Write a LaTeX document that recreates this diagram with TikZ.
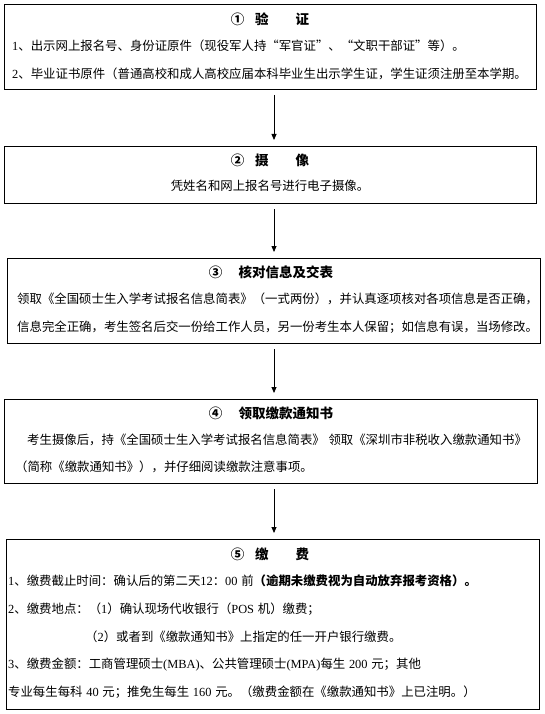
\documentclass[tikz,border=0pt]{standalone}
\usepackage{fontspec}
\setmainfont{Liberation Serif}
\newfontfamily\cjk{Noto Sans CJK SC}
\newfontfamily\tnr{Liberation Serif}
\usetikzlibrary{arrows.meta}

\begin{document}
\begin{tikzpicture}[x=1pt, y=-1pt,
	every node/.style={inner sep=0pt, font=\cjk\fontsize{12.4}{14}\selectfont},
	stepbox/.style={draw, line width=1pt, anchor=north west},
	ttl/.style={font=\cjk\bfseries\fontsize{13.5}{15}\selectfont},
	txt/.style={anchor=west},
	>={Triangle[length=6pt, width=5pt]}]
	\useasboundingbox (0,0) rectangle (545,714);
	\coordinate (ax) at (274,0);
	% boxes
	\node[stepbox, minimum width=532pt, minimum height=85pt] (b1) at (4,4) {};
	\node[stepbox, minimum width=532pt, minimum height=57pt] (b2) at (4,146) {};
	\node[stepbox, minimum width=533pt, minimum height=85pt] (b3) at (7,258) {};
	\node[stepbox, minimum width=533pt, minimum height=84pt] (b4) at (4,399) {};
	\node[stepbox, minimum width=533pt, minimum height=170pt] (b5) at (6,539) {};
	% step 1
	\node[ttl] (t1) at (270,19) {①\hspace{0.8em}验\hspace{2em}证};
	\node[txt] (l11) at (12,46) {{\tnr 1}、出示网上报名号、身份证原件（现役军人持“军官证”、“文职干部证”等）。};
	\node[txt] (l12) at (12,74) {{\tnr 2}、毕业证书原件（普通高校和成人高校应届本科毕业生出示学生证，学生证须注册至本学期。};
	% step 2
	\node[ttl] (t2) at (270,160) {②\hspace{0.8em}摄\hspace{2em}像};
	\node (l21) at (270,186) {凭姓名和网上报名号进行电子摄像。};
	% step 3
	\node[ttl] (t3) at (271,272) {③\hspace{1.2em}核对信息及交表};
	\node[txt] (l31) at (17,299) {领取《全国硕士生入学考试报名信息简表》（一式两份），并认真逐项核对各项信息是否正确，};
	\node[txt] (l32) at (17,327) {信息完全正确，考生签名后交一份给工作人员，另一份考生本人保留；如信息有误，当场修改。};
	% step 4
	\node[ttl] (t4) at (271,413) {④\hspace{1.2em}领取缴款通知书};
	\node[txt] (l41) at (27,440) {考生摄像后，持《全国硕士生入学考试报名信息简表》\hspace{0.3em}领取《深圳市非税收入缴款通知书》};
	\node[txt] (l42) at (15,467) {（简称《缴款通知书》），并仔细阅读缴款注意事项。};
	% step 5
	\node[ttl] (t5) at (270,554) {⑤\hspace{0.8em}缴\hspace{2em}费};
	\node[txt] (l51) at (8,581) {{\tnr 1}、缴费截止时间：确认后的第二天{\tnr 12}：{\tnr 00}\hspace{0.3em}前{\bfseries（逾期未缴费视为自动放弃报考资格）。}};
	\node[txt] (l52) at (8,609) {{\tnr 2}、缴费地点：（{\tnr 1}）确认现场代收银行（{\tnr POS}\hspace{0.3em}机）缴费；};
	\node[txt] (l53) at (85,637) {（{\tnr 2}）或者到《缴款通知书》上指定的任一开户银行缴费。};
	\node[txt] (l54) at (8,665) {{\tnr 3}、缴费金额：工商管理硕士{\tnr (MBA)}、公共管理硕士{\tnr (MPA)}每生\hspace{0.3em}{\tnr 200}\hspace{0.3em}元；其他};
	\node[txt] (l55) at (8,692) {专业每生每科\hspace{0.3em}{\tnr 40}\hspace{0.3em}元；推免生每生\hspace{0.3em}{\tnr 160}\hspace{0.3em}元。（缴费金额在《缴款通知书》上已注明。）};
	% arrows
	\draw[->, line width=0.8pt] ([yshift=-5pt]b1.south -| ax) -- ([yshift=6pt]b2.north -| ax);
	\draw[->, line width=0.8pt] ([yshift=-5pt]b2.south -| ax) -- ([yshift=6pt]b3.north -| ax);
	\draw[->, line width=0.8pt] ([yshift=-5pt]b3.south -| ax) -- ([yshift=6pt]b4.north -| ax);
	\draw[->, line width=0.8pt] ([yshift=-5pt]b4.south -| ax) -- ([yshift=6pt]b5.north -| ax);
\end{tikzpicture}
\end{document}
